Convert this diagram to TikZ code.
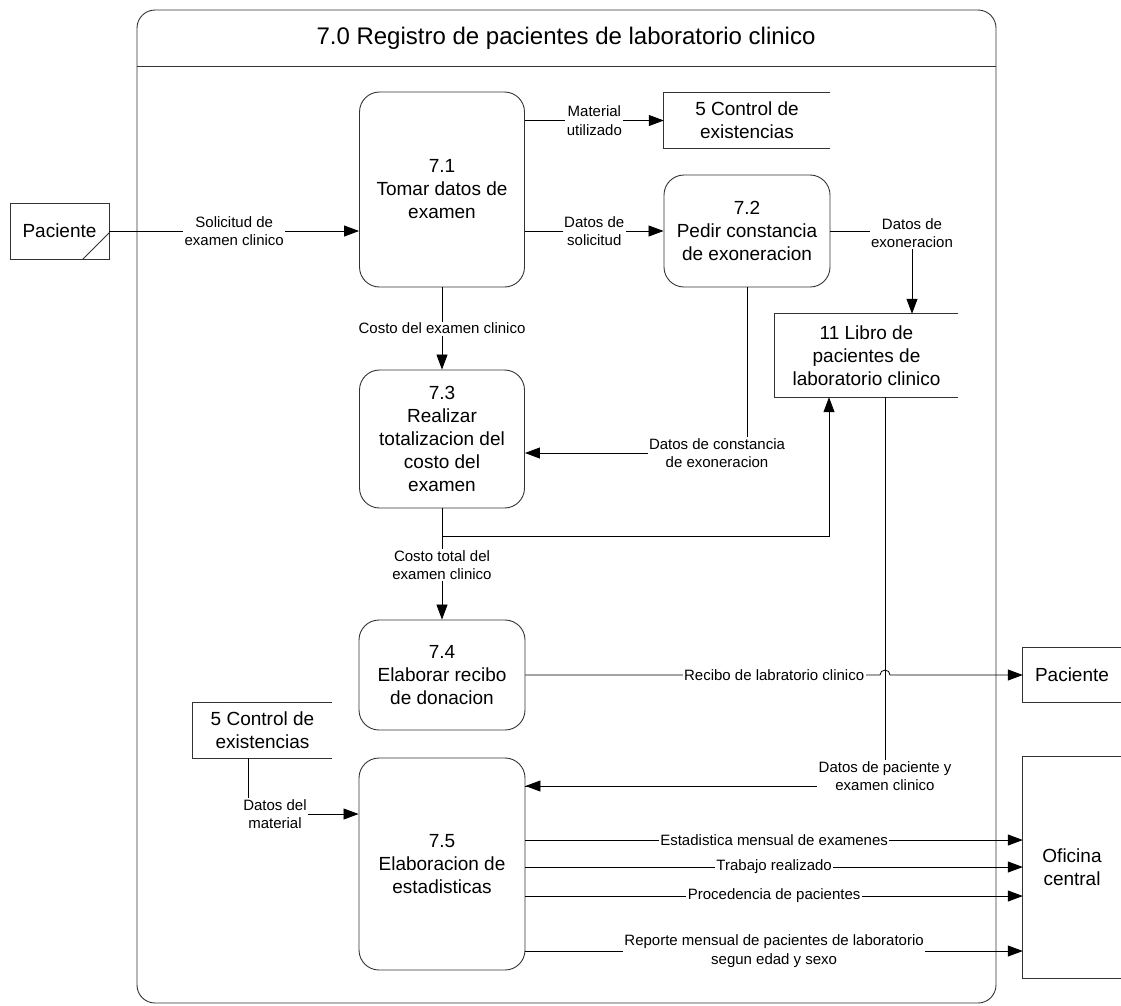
\documentclass[tikz,border=0pt]{standalone}
\usepackage{fontspec}
\setmainfont{Liberation Sans}
\usetikzlibrary{arrows.meta,calc}

\tikzset{
  proc/.style={draw=black!80, line width=0.9pt, rounded corners=20pt, align=center,
    font=\fontsize{19}{23}\selectfont, inner sep=0pt},
  storetext/.style={align=center, font=\fontsize{19}{23}\selectfont, inner sep=0pt},
  exttext/.style={align=center, font=\fontsize{19}{23}\selectfont, inner sep=0pt},
  lbl/.style={fill=white, align=center, font=\fontsize{15}{18.5}\selectfont, inner sep=1.5pt},
  flow/.style={draw=black, line width=0.8pt, -{Triangle[length=15pt,width=11pt]}},
  plain/.style={draw=black, line width=0.8pt},
  edge/.style={draw=black!80, line width=0.9pt}
}

\begin{document}
\begin{tikzpicture}[x=1pt, y=-1pt]
\useasboundingbox (0,0) rectangle (1121,1005);

% frame of process 7.0 with its heading
\draw[edge, rounded corners=18pt] (137,10) rectangle (996,1003);
\draw[edge] (137,66) -- (996,66);
\node[font=\fontsize{24}{28}\selectfont] (title) at (566,38) {7.0 Registro de pacientes de laboratorio clinico};

% processes
\node[proc, minimum width=165pt, minimum height=195pt] (p71) at (442,189.5) {7.1\\Tomar datos de\\examen};
\node[proc, minimum width=166pt, minimum height=112pt] (p72) at (747,231) {7.2\\Pedir constancia\\de exoneracion};
\node[proc, minimum width=165pt, minimum height=138pt] (p73) at (442,439) {7.3\\Realizar\\totalizacion del\\costo del\\examen};
\node[proc, minimum width=166pt, minimum height=110pt] (p74) at (442,675) {7.4\\Elaborar recibo\\de donacion};
\node[proc, minimum width=166pt, minimum height=212pt] (p75) at (442,864) {7.5\\Elaboracion de\\estadisticas};

% data stores (open on the right)
\node[storetext, minimum width=166pt, minimum height=55pt] (s5a) at (747,120.5) {5 Control de\\existencias};
\draw[edge] (s5a.north east) -- (s5a.north west) -- (s5a.south west) -- (s5a.south east);
\node[storetext, minimum width=183pt, minimum height=83pt] (s11) at (866.5,355.5) {11 Libro de\\pacientes de\\laboratorio clinico};
\draw[edge] (s11.north east) -- (s11.north west) -- (s11.south west) -- (s11.south east);
\node[storetext, minimum width=139pt, minimum height=55pt] (s5b) at (262.5,730.5) {5 Control de\\existencias};
\draw[edge] (s5b.north east) -- (s5b.north west) -- (s5b.south west) -- (s5b.south east);

% external entities
\node[exttext, draw=black!80, line width=0.9pt, minimum width=99pt, minimum height=56pt] (pacL) at (59.5,231) {Paciente};
\draw[edge] ([xshift=-27pt]pacL.south east) -- ([yshift=27pt]pacL.south east);
\node[exttext, minimum width=98pt, minimum height=55pt] (pacR) at (1072,675) {Paciente};
\draw[edge] (pacR.north east) -- (pacR.north west) -- (pacR.south west) -- (pacR.south east);
\node[exttext, minimum width=98pt, minimum height=221pt] (ofi) at (1072,867.5) {Oficina\\central};
\draw[edge] (ofi.north east) -- (ofi.north west) -- (ofi.south west) -- (ofi.south east);

% data flows
\draw[flow] (pacL.east) -- (pacL.east -| p71.west)
  node[lbl, midway] {Solicitud de\\examen clinico};
\draw[flow] (p71.east |- s5a.west) -- (s5a.west)
  node[lbl, midway] {Material\\utilizado};
\draw[flow] (p71.east |- p72.west) -- (p72.west)
  node[lbl, midway] {Datos de\\solicitud};
\draw[flow] (p72.east) -| ([xshift=45.5pt]s11.north)
  node[lbl, pos=0.5, yshift=-2pt] {Datos de\\exoneracion};
\draw[flow] (p71.south) -- (p73.north)
  node[lbl, midway] {Costo del examen clinico};
\draw[flow] (p72.south) |- ([yshift=-14pt]p73.east)
  node[lbl, pos=0.5, xshift=-30pt] {Datos de constancia\\de exoneracion};
\draw[flow] (p73.south) -- ++(0,28) -| ([xshift=-37.5pt]s11.south);
\draw[flow] (p73.south) -- (p74.north)
  node[lbl, midway, yshift=-1pt] {Costo total del\\examen clinico};

% receipt to the patient, hopping over the line from store 11
\coordinate (hop) at ([xshift=18.5pt]s11.south |- p74.east);
\draw[plain] ([xshift=18.5pt]s11.south) |- ([yshift=78pt]p75.east);
\draw[flow] (p74.east) -- ([xshift=-5pt]hop) arc[start angle=180, end angle=0, radius=5pt] -- (pacR.west);
\node[lbl] (lrec) at ($(p74.east)!0.5!(pacR.west)$) {Recibo de labratorio clinico};
\draw[flow] ([xshift=18.5pt]s11.south |- lrec.south) |- ([yshift=78pt]p75.east)
  node[lbl, pos=0.5, yshift=10pt] {Datos de paciente y\\examen clinico};

\draw[flow] ([xshift=-14.5pt]s5b.south) |- ([yshift=50pt]p75.west)
  node[lbl, pos=0.5, xshift=27pt] {Datos del\\material};

% reports to the central office
\coordinate (o1) at ([yshift=24pt]p75.east);
\coordinate (o2) at ([yshift=-3pt]p75.east);
\coordinate (o3) at ([yshift=-32pt]p75.east);
\coordinate (o4) at ([yshift=-87pt]p75.east);
\draw[flow] (o1) -- (o1 -| ofi.west) node[lbl, midway] {Estadistica mensual de examenes};
\draw[flow] (o2) -- (o2 -| ofi.west) node[lbl, midway] {Trabajo realizado};
\draw[flow] (o3) -- (o3 -| ofi.west) node[lbl, midway] {Procedencia de pacientes};
\draw[flow] (o4) -- (o4 -| ofi.west) node[lbl, midway] {Reporte mensual de pacientes de laboratorio\\segun edad y sexo};
\end{tikzpicture}
\end{document}
